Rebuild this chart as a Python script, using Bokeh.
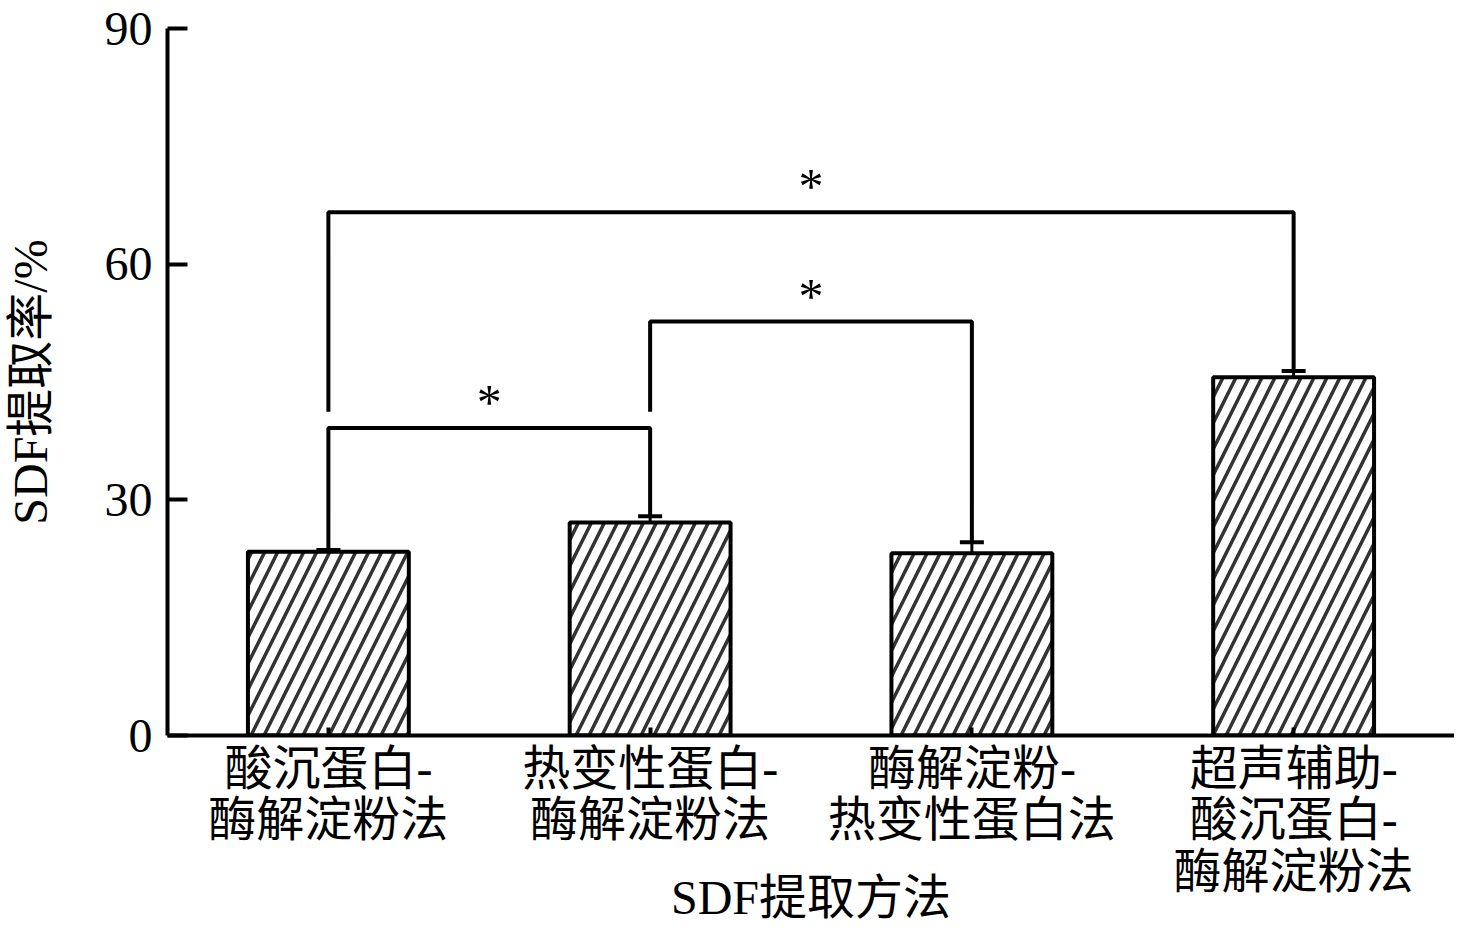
from bokeh.plotting import figure
from bokeh.models import Range1d, FixedTicker, Whisker, ColumnDataSource
from bokeh.core.properties import value
from bokeh.embed import file_html
from bokeh.resources import INLINE

# data
methods = ["酸沉蛋白-\n酶解淀粉法", "热变性蛋白-\n酶解淀粉法",
           "酶解淀粉-\n热变性蛋白法", "超声辅助-\n酸沉蛋白-\n酶解淀粉法"]
rates = [23.4, 27.1, 23.2, 45.6]
errors = [0.2, 0.8, 1.4, 0.8]

# significance brackets: left bar, right bar, top, left leg end, right leg end
br_left = [0, 1, 0]
br_right = [1, 2, 3]
br_top = [39.15, 52.7, 66.6]
br_left_end = [23.4, 41.2, 41.2]
br_right_end = [27.95, 24.55, 46.45]
br_mark = ["*", "*", "*"]

y_ticks = [0, 30, 60, 90]

FONT = "Liberation Serif, Noto Sans CJK SC"

xs = list(range(len(methods)))

p = figure(width=1454, height=935, output_backend="svg", toolbar_location=None,
           x_range=Range1d(-0.5, 3.5), y_range=Range1d(0, 90),
           min_border_left=164, min_border_right=0, min_border_top=28,
           min_border_bottom=200)
p.outline_line_color = None
p.xgrid.visible = False
p.ygrid.visible = False

src = ColumnDataSource(dict(x=xs, top=rates,
                            upper=[r + e for r, e in zip(rates, errors)],
                            lower=[r - e for r, e in zip(rates, errors)]))

p.vbar(x="x", top="top", width=0.5, source=src, fill_color="white",
       line_color="black", line_width=4, hatch_pattern="/",
       hatch_color="#333333", hatch_weight=3.5, hatch_scale=26)

wh = Whisker(base="x", upper="upper", lower="lower", source=src,
             line_color="black", line_width=3)
wh.upper_head.size = 24
wh.lower_head.size = 24
wh.upper_head.line_width = 4
wh.lower_head.line_width = 4
p.add_layout(wh)

bxs, bys = [], []
for a, b, t, la, rb in zip(br_left, br_right, br_top, br_left_end, br_right_end):
    bxs.append([xs[a], xs[a], xs[b], xs[b]])
    bys.append([la, t, t, rb])
p.multi_line(bxs, bys, line_color="black", line_width=4)

p.text(x=[(xs[a] + xs[b]) / 2 for a, b in zip(br_left, br_right)], y=br_top,
       text=br_mark, text_align="center", text_baseline="alphabetic",
       y_offset=-26, text_font=value(FONT), text_font_size="50px",
       text_color="black")

# axes
p.yaxis.ticker = FixedTicker(ticks=y_ticks)
p.yaxis.major_tick_in = 20
p.yaxis.major_tick_out = 0
p.yaxis.minor_tick_line_color = None
p.yaxis.major_label_standoff = 15
p.yaxis.axis_label = "SDF提取率/%"
p.yaxis.axis_label_standoff = 45

p.xaxis.ticker = FixedTicker(ticks=xs)
p.xaxis.major_label_overrides = {i: m for i, m in zip(xs, methods)}
p.xaxis.major_tick_in = 8
p.xaxis.major_tick_out = 0
p.xaxis.minor_tick_line_color = None
p.xaxis.major_label_standoff = 6
p.xaxis.major_label_text_line_height = 0.98
p.xaxis.axis_label = "SDF提取方法"
p.xaxis.axis_label_standoff = -30
p.xaxis.axis_label_text_line_height = 0.9

for ax in (p.xaxis, p.yaxis):
    ax.axis_line_width = 4
    ax.major_tick_line_width = 4
    ax.axis_line_color = "black"
    ax.major_tick_line_color = "black"
    ax.major_label_text_font = FONT
    ax.major_label_text_color = "black"
    ax.axis_label_text_font = FONT
    ax.axis_label_text_font_style = "normal"
    ax.axis_label_text_color = "black"
    ax.axis_label_text_font_size = "48px"

p.yaxis.major_label_text_font_size = "48px"
p.xaxis.major_label_text_font_size = "48px"

open("out.html", "w").write(file_html(p, INLINE))
